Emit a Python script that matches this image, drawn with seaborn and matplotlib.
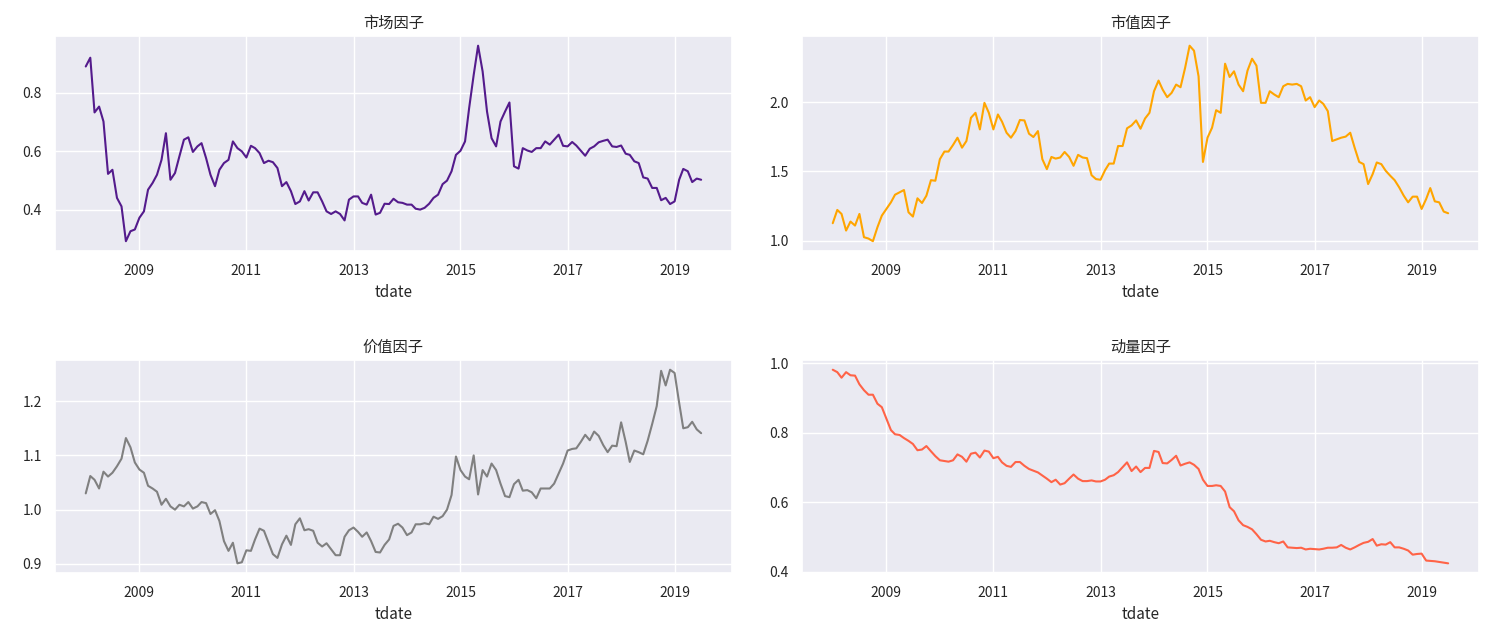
import matplotlib

matplotlib.use("Agg")
import matplotlib.pyplot as plt
import matplotlib.ticker as mticker
import pandas as pd
import seaborn as sns

# Monthly factor values, 2008-01 .. 2019-07 (139 points)
start_month = "2008-01-01"
n_months = 139

market = [
    0.889, 0.919, 0.732, 0.752, 0.701, 0.522, 0.536, 0.440, 0.411, 0.292,
    0.326, 0.332, 0.372, 0.394, 0.468, 0.491, 0.519, 0.570, 0.661, 0.502,
    0.525, 0.582, 0.639, 0.647, 0.597, 0.616, 0.627, 0.576, 0.519, 0.480,
    0.536, 0.559, 0.570, 0.633, 0.610, 0.599, 0.578, 0.618, 0.610, 0.593,
    0.559, 0.567, 0.562, 0.542, 0.480, 0.494, 0.463, 0.419, 0.428, 0.463,
    0.431, 0.459, 0.459, 0.428, 0.394, 0.385, 0.394, 0.385, 0.363, 0.434,
    0.445, 0.445, 0.423, 0.417, 0.451, 0.383, 0.389, 0.420, 0.419, 0.437,
    0.425, 0.423, 0.417, 0.417, 0.403, 0.400, 0.406, 0.420, 0.440, 0.451,
    0.487, 0.499, 0.531, 0.587, 0.601, 0.633, 0.747, 0.860, 0.960, 0.872,
    0.735, 0.644, 0.616, 0.701, 0.735, 0.766, 0.548, 0.540, 0.610, 0.602,
    0.597, 0.610, 0.610, 0.633, 0.622, 0.639, 0.656, 0.618, 0.616, 0.631,
    0.619, 0.601, 0.584, 0.608, 0.616, 0.630, 0.635, 0.639, 0.616, 0.614,
    0.619, 0.591, 0.587, 0.565, 0.559, 0.510, 0.506, 0.474, 0.474, 0.432,
    0.440, 0.419, 0.428, 0.502, 0.539, 0.531, 0.494, 0.506, 0.502,
]

size = [
    1.125, 1.221, 1.192, 1.072, 1.137, 1.108, 1.192, 1.024, 1.014, 0.995,
    1.096, 1.180, 1.228, 1.276, 1.331, 1.348, 1.365, 1.204, 1.173, 1.305,
    1.271, 1.324, 1.436, 1.432, 1.588, 1.643, 1.643, 1.691, 1.743, 1.671,
    1.719, 1.887, 1.923, 1.803, 1.995, 1.923, 1.803, 1.911, 1.859, 1.779,
    1.743, 1.791, 1.871, 1.868, 1.772, 1.748, 1.791, 1.588, 1.516, 1.604,
    1.592, 1.600, 1.640, 1.604, 1.540, 1.619, 1.600, 1.595, 1.472, 1.444,
    1.439, 1.508, 1.556, 1.556, 1.683, 1.683, 1.811, 1.832, 1.868, 1.808,
    1.882, 1.923, 2.079, 2.156, 2.091, 2.036, 2.067, 2.127, 2.108, 2.247,
    2.408, 2.372, 2.187, 1.568, 1.743, 1.815, 1.942, 1.923, 2.278, 2.182,
    2.223, 2.127, 2.079, 2.228, 2.314, 2.264, 1.995, 1.995, 2.079, 2.055,
    2.036, 2.115, 2.132, 2.127, 2.132, 2.115, 2.012, 2.036, 1.964, 2.012,
    1.988, 1.935, 1.719, 1.731, 1.743, 1.751, 1.779, 1.671, 1.568, 1.552,
    1.408, 1.480, 1.564, 1.552, 1.504, 1.468, 1.436, 1.384, 1.324, 1.276,
    1.317, 1.317, 1.228, 1.300, 1.379, 1.283, 1.276, 1.209, 1.197,
]

value = [
    1.030, 1.062, 1.055, 1.039, 1.070, 1.061, 1.068, 1.080, 1.094, 1.132,
    1.115, 1.087, 1.074, 1.068, 1.044, 1.039, 1.033, 1.009, 1.020, 1.006,
    1.000, 1.009, 1.006, 1.014, 1.002, 1.006, 1.014, 1.012, 0.992, 0.999,
    0.979, 0.942, 0.924, 0.939, 0.901, 0.903, 0.925, 0.924, 0.945, 0.965,
    0.961, 0.939, 0.918, 0.911, 0.936, 0.952, 0.935, 0.973, 0.984, 0.962,
    0.964, 0.961, 0.939, 0.932, 0.938, 0.927, 0.916, 0.916, 0.950, 0.962,
    0.967, 0.959, 0.950, 0.958, 0.942, 0.922, 0.921, 0.935, 0.945, 0.970,
    0.974, 0.967, 0.953, 0.958, 0.973, 0.973, 0.975, 0.973, 0.987, 0.983,
    0.988, 1.000, 1.027, 1.098, 1.073, 1.061, 1.056, 1.100, 1.028, 1.073,
    1.061, 1.085, 1.073, 1.048, 1.025, 1.023, 1.047, 1.055, 1.035, 1.036,
    1.032, 1.021, 1.039, 1.039, 1.039, 1.048, 1.067, 1.085, 1.109, 1.112,
    1.113, 1.125, 1.138, 1.128, 1.144, 1.136, 1.119, 1.106, 1.118, 1.117,
    1.161, 1.125, 1.088, 1.109, 1.106, 1.102, 1.127, 1.158, 1.191, 1.256,
    1.229, 1.258, 1.252, 1.197, 1.150, 1.152, 1.162, 1.148, 1.141,
]

momentum = [
    0.982, 0.975, 0.959, 0.975, 0.966, 0.965, 0.940, 0.923, 0.910, 0.910,
    0.884, 0.874, 0.841, 0.808, 0.796, 0.794, 0.785, 0.777, 0.768, 0.750,
    0.752, 0.762, 0.747, 0.733, 0.721, 0.719, 0.717, 0.721, 0.738, 0.731,
    0.717, 0.740, 0.743, 0.729, 0.749, 0.746, 0.727, 0.731, 0.715, 0.705,
    0.702, 0.716, 0.716, 0.705, 0.696, 0.691, 0.686, 0.677, 0.668, 0.658,
    0.665, 0.651, 0.655, 0.668, 0.680, 0.668, 0.661, 0.661, 0.663, 0.660,
    0.660, 0.665, 0.674, 0.678, 0.687, 0.701, 0.715, 0.690, 0.703, 0.687,
    0.699, 0.699, 0.748, 0.745, 0.713, 0.712, 0.722, 0.734, 0.706, 0.711,
    0.715, 0.708, 0.696, 0.665, 0.647, 0.647, 0.649, 0.647, 0.631, 0.586,
    0.574, 0.548, 0.534, 0.529, 0.522, 0.508, 0.492, 0.487, 0.489, 0.485,
    0.482, 0.487, 0.470, 0.469, 0.468, 0.469, 0.464, 0.466, 0.465, 0.464,
    0.466, 0.469, 0.469, 0.470, 0.477, 0.469, 0.464, 0.470, 0.477, 0.483,
    0.486, 0.494, 0.475, 0.479, 0.478, 0.485, 0.470, 0.470, 0.466, 0.461,
    0.449, 0.451, 0.452, 0.432, 0.431, 0.430, 0.428, 0.426, 0.424,
]

titles = ["市场因子", "市值因子", "价值因子", "动量因子"]
colors = ["#541b8c", "orange", "gray", "tomato"]
y_steps = [0.2, 0.5, 0.1, 0.2]
tick_years = ["2009", "2011", "2013", "2015", "2017", "2019"]


def main():
    sns.set_theme(style="darkgrid")
    plt.rcParams["font.family"] = ["Noto Sans CJK SC", "DejaVu Sans"]
    plt.rcParams["axes.unicode_minus"] = False

    df = pd.DataFrame(
        {
            "tdate": pd.date_range(start_month, periods=n_months, freq="MS"),
            "market": market,
            "size": size,
            "value": value,
            "momentum": momentum,
        }
    )
    cols = ["market", "size", "value", "momentum"]

    fig = plt.figure(figsize=(14.94, 6.24), dpi=100)
    # axes boxes in figure fractions: left col / right col, top row / bottom row
    boxes = [
        [0.0368, 0.5978, 0.4531, 0.3446],
        [0.5368, 0.5978, 0.4531, 0.3446],
        [0.0368, 0.0817, 0.4531, 0.3413],
        [0.5368, 0.0817, 0.4531, 0.3413],
    ]
    ticks = pd.to_datetime(tick_years)

    for col, title, color, step, box in zip(cols, titles, colors, y_steps, boxes):
        ax = fig.add_axes(box)
        sns.lineplot(data=df, x="tdate", y=col, color=color, linewidth=1.5, ax=ax)
        ax.set_title(title, fontsize=11)
        ax.set_xlabel("tdate", fontsize=11)
        ax.set_ylabel("")
        ax.set_xticks(ticks)
        ax.set_xticklabels(tick_years)
        ax.yaxis.set_major_locator(mticker.MultipleLocator(step))
        ax.yaxis.set_major_formatter(mticker.FormatStrFormatter("%.1f"))
        ax.tick_params(labelsize=10)

    fig.savefig("out.png", dpi=100)
    plt.close(fig)


if __name__ == "__main__":
    main()
